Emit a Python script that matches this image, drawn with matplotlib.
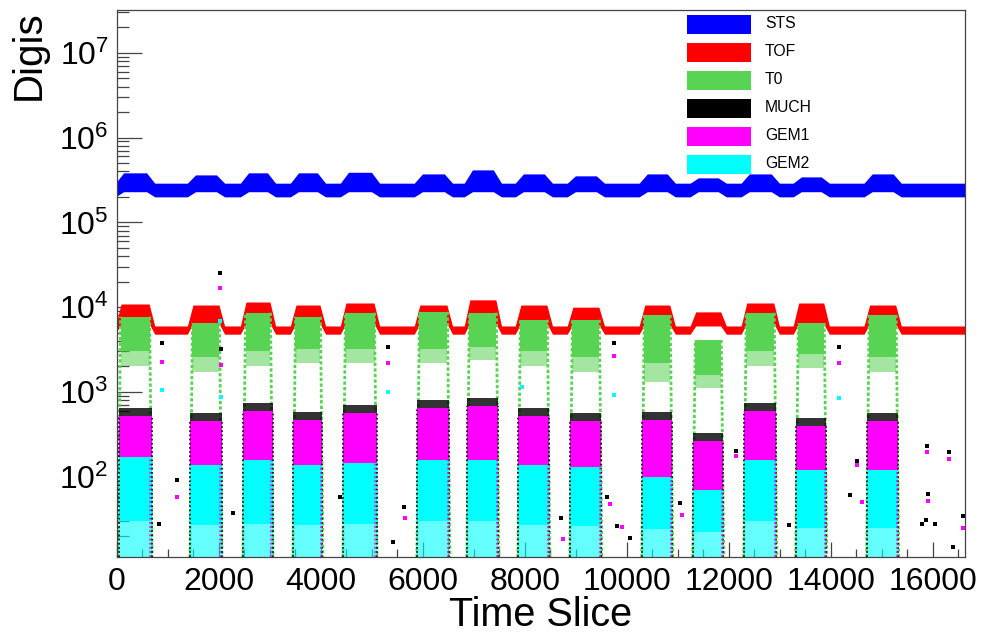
import numpy as np
import matplotlib
matplotlib.use('Agg')
import matplotlib.pyplot as plt
from matplotlib.ticker import FixedLocator, MultipleLocator, FuncFormatter, NullFormatter
from matplotlib.patches import Rectangle

plt.rcParams['font.family'] = ['Liberation Sans', 'DejaVu Sans']
plt.rcParams['mathtext.fontset'] = 'custom'
plt.rcParams['mathtext.rm'] = 'Liberation Sans'
plt.rcParams['mathtext.it'] = 'Liberation Sans:italic'

# ---------------- data ----------------
series_names = ['STS', 'TOF', 'T0', 'MUCH', 'GEM1', 'GEM2']
series_colors = ['#0000ff', '#ff0000', '#59d354', '#000000', '#ff00ff', '#00ffff']

x_max = 16630
y_min, y_max = 11.3, 3.2e7
y_decades = [2, 3, 4, 5, 6, 7]

# beam spills (time slice of start / end)
spill_start = [20, 1430, 2470, 3450, 4430, 5880, 6860, 7860, 8880, 10290, 11290, 12290, 13310, 14700]
spill_end   = [690, 2060, 3060, 4040, 5100, 6530, 7490, 8490, 9510, 10900, 11900, 12940, 13920, 15330]

# STS digis
sts_base_top, sts_base_bottom = 2.9e5, 2.0e5
sts_spill_top = [3.84e5, 3.63e5, 3.84e5, 3.84e5, 3.9e5, 3.73e5, 4.16e5, 3.73e5, 3.54e5, 3.73e5, 3.35e5, 3.73e5, 3.44e5, 3.73e5]
sts_spill_bottom = [2.3e5] * 14

# TOF digis
tof_base_top, tof_base_bottom = 6.0e3, 4.8e3
tof_spill_top = [1.09e4, 1.06e4, 1.15e4, 1.06e4, 1.12e4, 1.06e4, 1.22e4, 1.06e4, 1.0e4, 1.06e4, 8.8e3, 1.12e4, 1.12e4, 1.06e4]
tof_spill_bottom = [6.4e3, 6.4e3, 6.4e3, 6.4e3, 6.4e3, 6.4e3, 6.4e3, 6.4e3, 6.2e3, 6.2e3, 6.0e3, 6.4e3, 6.3e3, 6.3e3]

# T0 digis (dense core, sparse tail)
t0_spill_top    = [7.7e3, 6.5e3, 8.6e3, 7.7e3, 8.6e3, 8.8e3, 8.6e3, 7.1e3, 7.1e3, 8.1e3, 4.1e3, 8.6e3, 6.5e3, 8.1e3]
t0_spill_core   = [3.0e3, 2.6e3, 3.0e3, 3.2e3, 3.2e3, 3.2e3, 3.4e3, 3.0e3, 2.6e3, 2.2e3, 1.6e3, 3.0e3, 2.8e3, 2.6e3]
t0_spill_bottom = [2.0e3, 1.7e3, 2.0e3, 2.2e3, 2.2e3, 2.2e3, 2.4e3, 2.0e3, 1.7e3, 1.3e3, 1.1e3, 2.0e3, 1.9e3, 1.7e3]

# MUCH / GEM1 / GEM2 digis (upper edge of the in-spill cloud, lower edge of the dense part)
much_spill_top = [647, 565, 742, 580, 703, 805, 849, 647, 565, 580, 328, 742, 493, 565]
gem1_spill_top = [520, 455, 600, 470, 565, 650, 690, 520, 455, 470, 265, 600, 400, 455]
gem2_spill_top = [171, 138, 158, 138, 145, 158, 158, 138, 130, 99, 70, 158, 120, 120]
gem2_spill_core = [30, 27, 28, 27, 28, 30, 30, 27, 26, 24, 22, 30, 25, 25]

# isolated points between spills
much_out_t = [882, 2020, 2030, 5314, 9745, 14157, 824, 1176, 2275, 4373, 5627, 5412, 8706, 9608, 9804, 10059,
              11039, 12137, 13176, 14373, 14510, 15882, 15902, 15860, 16314, 16392, 16588, 16039, 15784]
much_out_v = [3.8e3, 2.5e4, 3.2e3, 3.4e3, 3.8e3, 3.4e3, 28, 92, 37, 57, 44, 17, 33, 58, 26, 19,
              49, 201, 27, 61, 153, 231, 63, 31, 198, 15, 34, 28, 28]
gem1_out_t = [882, 2020, 2030, 5314, 9745, 14157, 1176, 5647, 8745, 9667, 9902, 11078, 12137, 14510, 14608,
              15882, 15902, 16314, 16588]
gem1_out_v = [2.26e3, 1.7e4, 2.1e3, 2.2e3, 2.66e3, 2.2e3, 58, 33, 18.5, 48, 25.5, 35, 176, 138, 50,
              196, 52, 163, 25]
gem2_out_t = [882, 2020, 2030, 5314, 9745, 14157, 7941]
gem2_out_v = [1.06e3, 6.8e3, 873, 1.0e3, 922, 849, 1145]

# ---------------- figure ----------------
fig = plt.figure(figsize=(9.84, 6.34), dpi=100)
ax = fig.add_axes([117/984, 1-557/634, 848/984, 547/634])
ax.set_yscale('log')
ax.set_xlim(0, x_max)
ax.set_ylim(y_min, y_max)


def band(base_lo, base_hi, lo, hi, r_in, r_out):
    xs, ylo, yhi = [-500], [base_lo], [base_hi]
    for s, e, l, h in zip(spill_start, spill_end, lo, hi):
        xs += [s - r_in, s + r_out, e - r_out, e + r_in]
        ylo += [base_lo, l, l, base_lo]
        yhi += [base_hi, h, h, base_hi]
    xs.append(x_max + 500)
    ylo.append(base_lo)
    yhi.append(base_hi)
    return xs, ylo, yhi


def block(x0, x1, lo, hi, col, z, alpha=1.0):
    ax.fill_between([x0, x1], [lo, lo], [hi, hi], color=col, alpha=alpha, lw=0, zorder=z)


# STS
xs, lo, hi = band(sts_base_bottom, sts_base_top, sts_spill_bottom, sts_spill_top, 50, 110)
ax.fill_between(xs, lo, hi, color=series_colors[0], lw=0, zorder=3)
# TOF
xs, lo, hi = band(tof_base_bottom, tof_base_top, tof_spill_bottom, tof_spill_top, 50, 60)
ax.fill_between(xs, lo, hi, color=series_colors[1], lw=0, zorder=4)

# T0: dense core, sparse tail and ramp streaks
for s, e, lo_, core_, hi_ in zip(spill_start, spill_end, t0_spill_bottom, t0_spill_core, t0_spill_top):
    block(s + 50, e - 50, core_, hi_, series_colors[2], 5)
    block(s + 50, e - 50, lo_, core_, series_colors[2], 5, alpha=0.55)
    ax.plot([s, s + 50], [y_min, hi_], color=series_colors[2], lw=2.0, ls=(0, (1.2, 0.8)), zorder=5)
    ax.plot([e - 50, e], [hi_, y_min], color=series_colors[2], lw=2.0, ls=(0, (1.2, 0.8)), zorder=5)

# MUCH / GEM1 / GEM2 clouds
for s, e, hm, h1, h2, c2 in zip(spill_start, spill_end, much_spill_top, gem1_spill_top,
                                gem2_spill_top, gem2_spill_core):
    x0, x1 = s + 10, e - 10
    block(x0, x1, h1 * 0.8, hm, series_colors[3], 6, alpha=0.8)
    block(x0, x1, c2, h1, series_colors[4], 7)
    block(x0, x1, c2, h2, series_colors[5], 8)
    block(x0, x1, y_min, c2, series_colors[5], 8, alpha=0.6)
    ax.plot([x0, x0], [y_min, h1], color=series_colors[3], lw=1.2, ls=(0, (1, 1.5)), zorder=8.5)
    ax.plot([x1, x1], [y_min, h1], color=series_colors[3], lw=1.2, ls=(0, (1, 1.5)), zorder=8.5)
    ax.plot([x1 - 25, x1 - 25], [y_min, h2], color=series_colors[4], lw=1.2, ls=(0, (1, 1.5)), zorder=8.5)

ax.scatter(much_out_t, much_out_v, s=5, marker='s', color=series_colors[3], lw=0, zorder=6)
ax.scatter(gem1_out_t, gem1_out_v, s=5, marker='s', color=series_colors[4], lw=0, zorder=7)
ax.scatter(gem2_out_t, gem2_out_v, s=5, marker='s', color=series_colors[5], lw=0, zorder=8)

# ---------------- axes style ----------------
for side in ['left', 'bottom', 'right', 'top']:
    ax.spines[side].set_color('#444444')
    ax.spines[side].set_linewidth(0.9)
    ax.spines[side].set_zorder(20)

major_y = [10.0 ** d for d in y_decades]
minor_y = [m * 10.0 ** d for d in [1] + y_decades for m in range(2, 10) if y_min <= m * 10.0 ** d <= y_max]
ax.yaxis.set_major_locator(FixedLocator(major_y))
ax.yaxis.set_minor_locator(FixedLocator(minor_y))
ax.yaxis.set_minor_formatter(NullFormatter())
ax.yaxis.set_major_formatter(FuncFormatter(lambda v, p: r'$\mathregular{10^{%d}}$' % int(round(np.log10(v)))))

ax.xaxis.set_major_locator(MultipleLocator(2000))
ax.xaxis.set_minor_locator(MultipleLocator(500))
ax.xaxis.set_major_formatter(FuncFormatter(lambda v, p: '%d' % v))

ax.tick_params(axis='y', which='major', direction='in', length=18, width=0.9, color='#444444',
               labelsize=23, pad=6, right=False)
ax.tick_params(axis='y', which='minor', direction='in', length=8.5, width=0.9, color='#444444', right=False)
ax.tick_params(axis='x', which='major', direction='in', length=11, width=0.9, color='#444444',
               labelsize=23, pad=7, top=False)
ax.tick_params(axis='x', which='minor', direction='in', length=6, width=0.9, color='#444444', top=False)

fig.text(29/984, 1-10/634, 'Digis', rotation=90, ha='center', va='top', fontsize=29)
fig.text(541/984, (634-626)/634, 'Time Slice', ha='center', va='baseline', fontsize=28.5)

# legend (manual, ROOT style)
leg_y = [24, 52, 80, 108, 136, 164]
for name, col, yc in zip(series_names, series_colors, leg_y):
    yf = 1 - (yc - 10) / 547
    ax.add_patch(Rectangle(((687 - 117) / 848, yf - 9.5 / 547), 64 / 848, 19 / 547,
                           transform=ax.transAxes, facecolor=col, edgecolor='none', zorder=1))
    ax.text((765 - 117) / 848, yf, name, transform=ax.transAxes, ha='left', va='center',
            fontsize=11.3, zorder=1)

fig.savefig('out.png', dpi=100)
